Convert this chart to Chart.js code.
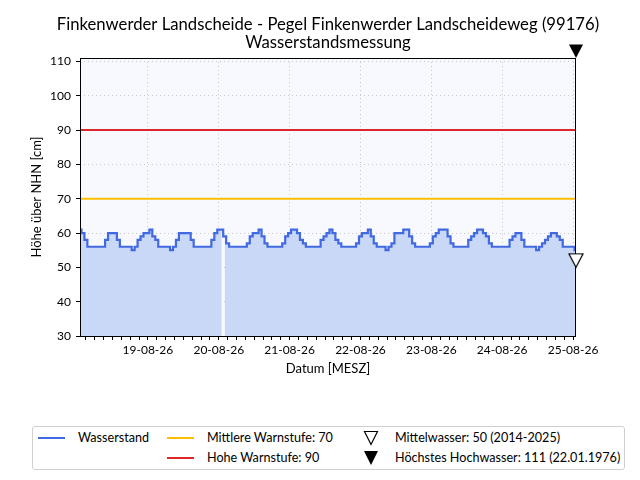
<!DOCTYPE html>
<html>
<head>
<meta charset="utf-8">
<script src="https://cdn.jsdelivr.net/npm/chart.js@4.4.1/dist/chart.umd.min.js"></script>
<style>
    body { margin: 0; background: #fff; font-family: Lato, sans-serif; }
    #wrap { position: relative; width: 640px; height: 480px; }
    #legend { position: absolute; left: 32px; top: 426px; width: 591px; height: 42px; border: 1px solid #d0d0d0; border-radius: 3px; background: #fff; font-size: 12.6px; color: #000; }
    #legend .ln { position: absolute; height: 2px; width: 27px; }
    #legend .tx { position: absolute; line-height: 16px; white-space: nowrap; }
    #legend svg { position: absolute; }
</style>
</head>
<body>
<div id="wrap">
    <canvas id="chart" width="640" height="480"></canvas>
    <div id="legend">
        <div class="ln" style="left:5px; top:10px; background:#4169e1"></div>
        <div class="tx" style="left:45px; top:3px">Wasserstand</div>
        <div class="ln" style="left:134px; top:10px; background:#ffbf00"></div>
        <div class="tx" style="left:174px; top:3px">Mittlere Warnstufe: 70</div>
        <div class="ln" style="left:134px; top:30px; background:#dc2828"></div>
        <div class="tx" style="left:174px; top:23px">Hohe Warnstufe: 90</div>
        <svg style="left:330px; top:3px" width="16" height="16"><polygon points="1.5,1.5 14.5,1.5 8,14.5" fill="#fff" stroke="#000" stroke-width="1.2"/></svg>
        <div class="tx" style="left:362px; top:3px">Mittelwasser: 50 (2014-2025)</div>
        <svg style="left:330px; top:23px" width="16" height="16"><polygon points="1,1 15,1 8,15" fill="#000"/></svg>
        <div class="tx" style="left:362px; top:23px">Höchstes Hochwasser: 111 (22.01.1976)</div>
    </div>
</div>
<script>
// Stunden seit 18-08-26 00:00, erster Wert um 01:00
const startHour = 1;

// Wasserstand [cm], stündlich
const wasserstand = [
    61, 60, 58, 56, 56, 56, 56, 56, 56, 58, 60, 60, 60, 58, 56, 56, 56, 56, 55, 56, 58, 59, 60, 60,
    61, 59, 58, 56, 56, 56, 56, 55, 56, 58, 60, 60, 60, 60, 58, 56, 56, 56, 56, 56, 56, 58, 60, 61,
    61, 59, 57, 56, 56, 56, 56, 56, 56, 57, 59, 60, 60, 61, 59, 57, 56, 56, 56, 56, 56, 57, 59, 60,
    61, 61, 60, 58, 57, 56, 56, 56, 56, 56, 58, 59, 60, 61, 60, 58, 57, 56, 56, 56, 56, 56, 57, 59,
    60, 60, 61, 59, 57, 56, 56, 56, 55, 56, 57, 60, 60, 60, 61, 61, 59, 57, 56, 56, 56, 56, 56, 57,
    59, 60, 61, 61, 61, 59, 57, 56, 56, 56, 56, 56, 58, 59, 60, 61, 61, 60, 59, 57, 56, 56, 56, 56,
    56, 56, 58, 59, 60, 60, 58, 56, 56, 56, 56, 55, 56, 57, 58, 59, 60, 60, 59, 58, 56, 56, 56, 56,
    55
];

// fehlender Messwert (Lücke in der Fläche)
const missingHours = [49.5];

const dayHours = [24, 48, 72, 96, 120, 144, 168];
const dayLabels = ['19-08-26', '20-08-26', '21-08-26', '22-08-26', '23-08-26', '24-08-26', '25-08-26'];
const yTicks = [30, 40, 50, 60, 70, 80, 90, 100, 110];

const mittlereWarnstufe = 70;
const hoheWarnstufe = 90;
const mittelwasser = 50;
const hoechstesHochwasser = 111;

const xMin = startHour;
const xMax = startHour + wasserstand.length - 1;

Chart.defaults.font.family = 'Lato, sans-serif';
Chart.defaults.color = '#000';

// Punkte für Linie und Fläche
const linePoints = wasserstand.map((v, i) => ({ x: startHour + i, y: v }));
const fillPoints = linePoints.concat(missingHours.map(h => ({ x: h, y: null })))
    .sort((a, b) => a.x - b.x);

// Dreieck nach unten, Spitze im Mittelpunkt des Bildes
function triangle(filled) {
    const c = document.createElement('canvas');
    c.width = 16;
    c.height = 30;
    const g = c.getContext('2d');
    g.beginPath();
    g.moveTo(1, 1.5);
    g.lineTo(15, 1.5);
    g.lineTo(8, 15);
    g.closePath();
    if (filled) {
        g.fillStyle = '#000';
        g.fill();
    } else {
        g.fillStyle = '#fff';
        g.fill();
        g.lineWidth = 1.2;
        g.strokeStyle = '#000';
        g.stroke();
    }
    return c;
}

const frame = {
    id: 'frame',
    beforeDraw(chart) {
        const { ctx, chartArea: a } = chart;
        ctx.save();
        ctx.fillStyle = '#fff';
        ctx.fillRect(0, 0, chart.width, chart.height);
        ctx.fillStyle = '#f8f8ff';
        ctx.fillRect(a.left, a.top, a.right - a.left, a.bottom - a.top);
        ctx.restore();
    },
    afterDatasetDraw(chart, args) {
        if (args.index !== 1) return;
        const { ctx, chartArea: a } = chart;
        ctx.save();
        ctx.strokeStyle = '#000';
        ctx.lineWidth = 1;
        ctx.strokeRect(a.left + 0.5, a.top + 0.5, a.right - a.left - 1, a.bottom - a.top);
        ctx.restore();
    },
    afterDraw(chart) {
        const { ctx, chartArea: a } = chart;
        const cx = (a.left + a.right) / 2;
        ctx.save();
        ctx.fillStyle = '#000';
        ctx.font = '16.7px Lato, sans-serif';
        ctx.textAlign = 'center';
        ctx.textBaseline = 'middle';
        ctx.fillText('Finkenwerder Landscheide - Pegel Finkenwerder Landscheideweg (99176)', cx, 25);
        ctx.fillText('Wasserstandsmessung', cx, 43);
        ctx.restore();
    }
};

const chart = new Chart(document.getElementById('chart'), {
    type: 'line',
    data: {
        datasets: [
            {
                label: 'Fläche',
                data: fillPoints,
                borderWidth: 0,
                pointRadius: 0,
                backgroundColor: '#c8d8f6',
                fill: 'start',
                stepped: 'middle',
                spanGaps: false,
                order: 4
            },
            {
                label: 'Wasserstand',
                data: linePoints,
                borderColor: '#4169e1',
                borderWidth: 2.2,
                pointRadius: 0,
                fill: false,
                stepped: 'middle',
                spanGaps: true,
                order: 2
            },
            {
                label: 'Mittlere Warnstufe: 70',
                data: [{ x: xMin, y: mittlereWarnstufe }, { x: xMax, y: mittlereWarnstufe }],
                borderColor: '#ffbf00',
                borderWidth: 2,
                pointRadius: 0,
                order: 3
            },
            {
                label: 'Hohe Warnstufe: 90',
                data: [{ x: xMin, y: hoheWarnstufe }, { x: xMax, y: hoheWarnstufe }],
                borderColor: '#dc2828',
                borderWidth: 2,
                pointRadius: 0,
                order: 3
            },
            {
                label: 'Mittelwasser: 50 (2014-2025)',
                data: [{ x: xMax, y: mittelwasser }],
                pointStyle: triangle(false),
                pointRadius: 8,
                showLine: false,
                clip: false,
                order: 1
            },
            {
                label: 'Höchstes Hochwasser: 111 (22.01.1976)',
                data: [{ x: xMax, y: hoechstesHochwasser }],
                pointStyle: triangle(true),
                pointRadius: 8,
                showLine: false,
                clip: false,
                order: 1
            }
        ]
    },
    options: {
        responsive: false,
        animation: false,
        devicePixelRatio: 1,
        layout: { padding: { left: 25, right: 64, top: 58, bottom: 99 } },
        plugins: {
            legend: { display: false },
            title: { display: false },
            tooltip: { enabled: false }
        },
        scales: {
            x: {
                type: 'linear',
                min: xMin,
                max: xMax,
                afterBuildTicks: axis => {
                    const t = [];
                    for (let h = 3; h <= xMax; h += 3) t.push({ value: h });
                    axis.ticks = t;
                },
                afterFit: axis => { axis.height = 45; },
                ticks: {
                    autoSkip: false,
                    maxRotation: 0,
                    padding: 3,
                    font: { size: 12 },
                    callback: v => {
                        const i = dayHours.indexOf(v);
                        return i >= 0 ? dayLabels[i] : '';
                    }
                },
                grid: {
                    color: ctx => (ctx.tick && dayHours.includes(ctx.tick.value)) ? '#c8c8c8' : 'rgba(0,0,0,0)',
                    tickColor: '#000',
                    tickLength: 4,
                    lineWidth: 1
                },
                border: { display: false, dash: [1, 3] },
                title: { display: true, text: 'Datum [MESZ]', font: { size: 13 }, padding: { top: 2, bottom: 4 } }
            },
            y: {
                min: 30,
                max: 111,
                afterBuildTicks: axis => {
                    axis.ticks = yTicks.map(v => ({ value: v }));
                },
                afterFit: axis => { axis.width = 55; },
                ticks: { padding: 5, font: { size: 12 } },
                grid: {
                    color: '#c8c8c8',
                    tickColor: '#000',
                    tickLength: 4,
                    lineWidth: 1
                },
                border: { display: false, dash: [1, 3] },
                title: { display: true, text: 'Höhe über NHN [cm]', font: { size: 13 }, padding: { top: 4, bottom: 4 } }
            }
        }
    },
    plugins: [frame]
});
</script>
</body>
</html>
